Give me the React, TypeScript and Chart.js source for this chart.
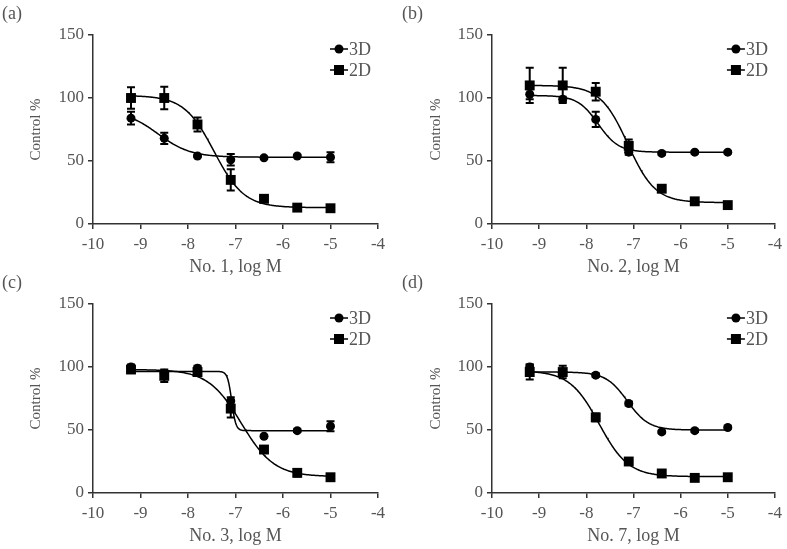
import React, { useEffect, useRef } from "react";
import { Chart, registerables } from "chart.js";
Chart.register(...registerables);

// Shared x positions (log M) and axis ticks
const logConc = [-9.2, -8.5, -7.8, -7.1, -6.4, -5.7, -5.0];
const xTicks = [-10, -9, -8, -7, -6, -5, -4];
const yTicks = [0, 50, 100, 150];

// Panel (a) – No. 1
const a3D = [84, 68, 54, 51, 52.5, 54, 53];
const a3DErr = [5, 4.5, 1, 4.5, 1, 1, 4];
const a2D = [100, 100, 79, 35, 20, 13, 12.5];
const a2DErr = [8.5, 9, 5.5, 8.5, 1, 1, 1];
const a3DFit = [90, 53, -8.63, 1.27]; // top, bottom, logEC50, hill
const a2DFit = [102, 13, -7.45, 1.38];

// Panel (b) – No. 2
const b3D = [103, 99, 83, 57, 56, 57, 57];
const b3DErr = [4, 2, 6, 2, 1, 1, 1];
const b2D = [110, 110, 105, 62, 28, 18, 15];
const b2DErr = [14, 14, 7, 5, 1, 1.5, 2.5];
const b3DFit = [102, 57, -7.75, 2.0];
const b2DFit = [110, 17, -7.12, 1.5];

// Panel (c) – No. 3
const c3D = [100, 95, 99, 73, 45, 49.5, 53];
const c3DErr = [2, 2, 2, 3, 1, 1, 4];
const c2D = [98, 93, 96, 67, 34.5, 16, 12.5];
const c2DErr = [2, 5, 3, 7, 1, 3, 1];
const c3DFit = [96.5, 49.5, -7.08, 10];
const c2DFit = [98, 13, -6.88, 1.25];

// Panel (d) – No. 7
const d3D = [100, 96, 93.5, 71, 48.5, 49.5, 52];
const d3DErr = [2, 2, 1.5, 1.5, 1, 1, 1];
const d2D = [96, 96, 60, 25, 15.5, 12, 12.5];
const d2DErr = [6, 5, 3, 1.5, 1, 2, 1];
const d3DFit = [96, 50, -7.13, 1.92];
const d2DFit = [97, 13, -7.73, 1.4];

const panelLetters = ["(a)", "(b)", "(c)", "(d)"];
const xTitles = ["No. 1, log M", "No. 2, log M", "No. 3, log M", "No. 7, log M"];
const legendLabels = ["3D", "2D"];

const FONT = '"Liberation Serif", "Times New Roman", serif';
const TEXT = "#555";
const AXIS = "#333";

function fitCurve(p: number[]) {
  const [top, bottom, ec50, hill] = p;
  const pts: { x: number; y: number }[] = [];
  const x0 = logConc[0];
  const x1 = logConc[logConc.length - 1];
  const n = 210;
  for (let i = 0; i <= n; i++) {
    const x = x0 + ((x1 - x0) * i) / n;
    pts.push({ x, y: bottom + (top - bottom) / (1 + Math.pow(10, (x - ec50) * hill)) });
  }
  return pts;
}

const errorBarPlugin = {
  id: "errorBars",
  beforeDatasetsDraw(chart: any) {
    const ctx = chart.ctx;
    const xs = chart.scales.x;
    const ys = chart.scales.y;
    ctx.save();
    ctx.strokeStyle = "#000";
    ctx.lineWidth = 2;
    chart.data.datasets.forEach((ds: any) => {
      if (!ds.errors) return;
      ds.data.forEach((pt: any, i: number) => {
        const e = ds.errors[i];
        if (!e) return;
        const px = xs.getPixelForValue(pt.x);
        const yTop = ys.getPixelForValue(pt.y + e);
        const yBot = ys.getPixelForValue(pt.y - e);
        ctx.beginPath();
        ctx.moveTo(px, yTop);
        ctx.lineTo(px, yBot);
        ctx.moveTo(px - 4, yTop);
        ctx.lineTo(px + 4, yTop);
        ctx.moveTo(px - 4, yBot);
        ctx.lineTo(px + 4, yBot);
        ctx.stroke();
      });
    });
    ctx.restore();
  },
};

const legendPlugin = {
  id: "customLegend",
  afterDraw(chart: any) {
    const ctx = chart.ctx;
    const area = chart.chartArea;
    const mx = area.right - 39;
    const rows = [area.top + 14, area.top + 35];
    ctx.save();
    rows.forEach((y, i) => {
      ctx.strokeStyle = "#000";
      ctx.lineWidth = 1.5;
      ctx.beginPath();
      ctx.moveTo(mx - 9, y);
      ctx.lineTo(mx + 9, y);
      ctx.stroke();
      ctx.fillStyle = "#000";
      if (i === 0) {
        ctx.beginPath();
        ctx.arc(mx, y, 4.5, 0, Math.PI * 2);
        ctx.fill();
      } else {
        ctx.fillRect(mx - 5, y - 5, 10, 10);
      }
      ctx.fillStyle = TEXT;
      ctx.font = `18px ${FONT}`;
      ctx.textBaseline = "middle";
      ctx.textAlign = "left";
      ctx.fillText(legendLabels[i], mx + 10, y + 1);
    });
    ctx.restore();
  },
};

type PanelProps = {
  left: number;
  top: number;
  width: number;
  height: number;
  chartLeft: number;
  chartRight: number;
  letter: string;
  xTitle: string;
  s3D: number[];
  e3D: number[];
  s2D: number[];
  e2D: number[];
  f3D: number[];
  f2D: number[];
};

function Panel(p: PanelProps) {
  const ref = useRef<HTMLCanvasElement>(null);
  useEffect(() => {
    if (!ref.current) return;
    const padL = 27;
    const chartTop = 35;
    const chartBottom = 224;
    const xH = 54;
    const chart = new Chart(ref.current, {
      type: "line",
      data: {
        datasets: [
          {
            label: "3D fit",
            data: fitCurve(p.f3D),
            borderColor: "#000",
            borderWidth: 1.5,
            pointRadius: 0,
            fill: false,
          },
          {
            label: "2D fit",
            data: fitCurve(p.f2D),
            borderColor: "#000",
            borderWidth: 1.5,
            pointRadius: 0,
            fill: false,
          },
          {
            label: legendLabels[0],
            data: logConc.map((x, i) => ({ x, y: p.s3D[i] })),
            errors: p.e3D,
            showLine: false,
            pointStyle: "circle",
            pointRadius: 4.5,
            backgroundColor: "#000",
            borderColor: "#000",
            borderWidth: 0,
          } as any,
          {
            label: legendLabels[1],
            data: logConc.map((x, i) => ({ x, y: p.s2D[i] })),
            errors: p.e2D,
            showLine: false,
            pointStyle: "rect",
            pointRadius: 7,
            backgroundColor: "#000",
            borderColor: "#000",
            borderWidth: 0,
          } as any,
        ],
      },
      options: {
        responsive: false,
        animation: false,
        events: [],
        layout: {
          padding: {
            left: padL,
            top: chartTop,
            right: p.width - p.chartRight,
            bottom: p.height - chartBottom - xH,
          },
        },
        plugins: {
          legend: { display: false },
          tooltip: { enabled: false },
        },
        scales: {
          x: {
            type: "linear",
            min: xTicks[0],
            max: xTicks[xTicks.length - 1],
            afterBuildTicks: (s: any) => {
              s.ticks = xTicks.map((v) => ({ value: v }));
            },
            afterFit: (s: any) => {
              s.height = xH;
            },
            grid: {
              drawOnChartArea: false,
              drawTicks: true,
              tickLength: 5,
              color: AXIS,
              lineWidth: 1.5,
            },
            border: { display: true, color: AXIS, width: 1.5 },
            ticks: {
              color: TEXT,
              font: { family: FONT, size: 17 },
              padding: 5,
              autoSkip: false,
              maxRotation: 0,
            },
            title: {
              display: true,
              text: p.xTitle,
              color: TEXT,
              font: { family: FONT, size: 18 },
              padding: 0,
            },
          },
          y: {
            type: "linear",
            min: yTicks[0],
            max: yTicks[yTicks.length - 1],
            afterBuildTicks: (s: any) => {
              s.ticks = yTicks.map((v) => ({ value: v }));
            },
            afterFit: (s: any) => {
              s.width = p.chartLeft - padL;
            },
            grid: {
              drawOnChartArea: false,
              drawTicks: true,
              tickLength: 5,
              color: AXIS,
              lineWidth: 1.5,
            },
            border: { display: true, color: AXIS, width: 1.5 },
            ticks: {
              color: TEXT,
              font: { family: FONT, size: 17 },
              padding: 4,
            },
            title: {
              display: true,
              text: "Control %",
              color: TEXT,
              font: { family: FONT, size: 15 },
              padding: 0,
            },
          },
        },
      } as any,
      plugins: [errorBarPlugin, legendPlugin],
    });
    return () => chart.destroy();
  }, []);
  return (
    <div
      style={{
        position: "absolute",
        left: p.left,
        top: p.top,
        width: p.width,
        height: p.height,
      }}
    >
      <canvas ref={ref} width={p.width} height={p.height} style={{ display: "block" }} />
      <div
        style={{
          position: "absolute",
          left: 2,
          top: 3,
          fontFamily: FONT,
          fontSize: 18,
          color: TEXT,
          lineHeight: "20px",
        }}
      >
        {p.letter}
      </div>
    </div>
  );
}

export default function App() {
  return (
    <div
      style={{
        position: "absolute",
        left: 0,
        top: 0,
        width: 787,
        height: 549,
        background: "#fff",
        overflow: "hidden",
      }}
    >
      <Panel left={0} top={0} width={393} height={280} chartLeft={93} chartRight={378}
        letter={panelLetters[0]} xTitle={xTitles[0]}
        s3D={a3D} e3D={a3DErr} s2D={a2D} e2D={a2DErr} f3D={a3DFit} f2D={a2DFit} />
      <Panel left={400} top={0} width={387} height={280} chartLeft={92} chartRight={376.5}
        letter={panelLetters[1]} xTitle={xTitles[1]}
        s3D={b3D} e3D={b3DErr} s2D={b2D} e2D={b2DErr} f3D={b3DFit} f2D={b2DFit} />
      <Panel left={0} top={269} width={393} height={280} chartLeft={93} chartRight={378}
        letter={panelLetters[2]} xTitle={xTitles[2]}
        s3D={c3D} e3D={c3DErr} s2D={c2D} e2D={c2DErr} f3D={c3DFit} f2D={c2DFit} />
      <Panel left={400} top={269} width={387} height={280} chartLeft={92} chartRight={376.5}
        letter={panelLetters[3]} xTitle={xTitles[3]}
        s3D={d3D} e3D={d3DErr} s2D={d2D} e2D={d2DErr} f3D={d3DFit} f2D={d2DFit} />
    </div>
  );
}
